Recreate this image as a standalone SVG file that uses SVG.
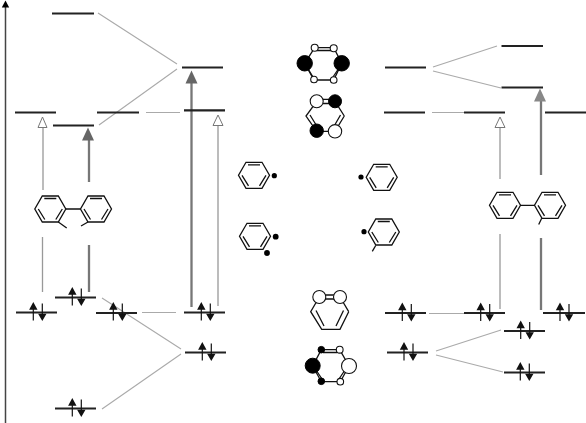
<svg xmlns="http://www.w3.org/2000/svg" xmlns:xlink="http://www.w3.org/1999/xlink" width="586" height="423" viewBox="0 0 586 423">
<style>
.lv{stroke:#222;stroke-width:2.2;fill:none}
.cn{stroke:#aaa;stroke-width:1.1;fill:none}
.thin{stroke:#999;stroke-width:1.3;fill:none}
.mid{stroke:#777;stroke-width:2.3;fill:none}
.oh{fill:#fff;stroke:#777;stroke-width:1}
.fh{fill:#666;stroke:none}
.ln{stroke:#111;stroke-width:1.3;fill:none}
.w{fill:#fff;stroke:#111;stroke-width:1.1}
.b{fill:#000;stroke:#000;stroke-width:1}
</style>
<defs>
<g id="spin">
<path d="M0,8.5V-6M9,-8.5V6" stroke="#111" stroke-width="1.2" fill="none"/>
<path d="M0,-10L-4.2,-2.3H4.2ZM9,9L4.8,1.8H13.2Z" fill="#111"/>
</g>
<g id="hex">
<path class="ln" d="M-8,-13H8L15.5,0L8,13H-8L-15.5,0Z"/>
<path class="ln" d="M-6,-10.5H6M-12,0L-5.5,10.5M12,0L5.5,10.5"/>
</g>
</defs>
<rect width="586" height="423" fill="#fff"/>

<g id="axis">
<path d="M5.5,423V6" stroke="#444" stroke-width="1.5" fill="none"/>
<path d="M5.5,0.5L1.8,7.5H9.2Z" fill="#000"/>
</g>

<g id="connectors">
<path class="cn" d="M98,13L177,64M99,125L177,69M146,112.5H180M102,298L181,349M102,409L181,354M142,312.5H176"/>
<path class="cn" d="M433,67L497,46M433,71L501,88M432,112.5H465M436,351L501,330M436,355L503,372M429,313.5H465"/>
<path class="thin" d="M43,190V127M42.5,237V292M218,306V125M500,179V127M500,234V309"/>
<path class="mid" d="M89,182V140M89,245V292M191.5,307V82M541,175V101M541,238V310"/>
<polygon class="oh" points="42.5,117 38,127.5 47,127.5"/>
<polygon class="fh" points="88,127.5 82,140.5 94,140.5"/>
<polygon class="fh" points="191.5,70.5 185.5,83.5 197.5,83.5"/>
<polygon class="oh" points="218,115 213,125.5 223,125.5"/>
<polygon class="oh" points="500,117 495,127.5 505,127.5"/>
<polygon class="fh" points="540,88.5 534,101.5 546,101.5" style="fill:#888"/>
</g>

<g id="levels-left">
<path class="lv" d="M52,13.5H94M15,112.5H56M53,125.5H94M97,112.5H139M182,67.5H223M184,110.3H225"/>
<path class="lv" d="M16,312.5H57M55,297.5H96M96,313H137M184,312.5H225M185,352.5H226M55,408.5H96"/>
<use href="#spin" x="33.3" y="312"/>
<use href="#spin" x="72.3" y="297"/>
<use href="#spin" x="113.3" y="312"/>
<use href="#spin" x="201.3" y="312"/>
<use href="#spin" x="202.3" y="352"/>
<use href="#spin" x="72.3" y="408"/>
</g>

<g id="levels-right">
<path class="lv" d="M385,67.5H426M384,112.5H425M464,112.5H505M501.5,46H543M501.5,87.5H543M545,112.5H586"/>
<path class="lv" d="M385,313H426M387,352.5H428M464,313H505M504,331H545M504,372.5H545M543,313H585"/>
<use href="#spin" x="402.3" y="312.5"/>
<use href="#spin" x="404" y="352"/>
<use href="#spin" x="480.7" y="312.5"/>
<use href="#spin" x="520.7" y="330.5"/>
<use href="#spin" x="520.3" y="372"/>
<use href="#spin" x="560" y="312.5"/>
</g>

<g id="biphenyl-dimethyl">
<use href="#hex" x="50.3" y="209"/>
<use href="#hex" x="96" y="209"/>
<path class="ln" d="M65.8,209H80.5M58.3,222L66.7,228M88,222L81,226"/>
</g>

<g id="biphenyl-methyl">
<use href="#hex" x="505" y="205.3"/>
<use href="#hex" x="550" y="205.3"/>
<path class="ln" d="M520.5,205.3H534.5M541.7,218.3L538.7,224.5"/>
</g>

<g id="radical-1">
<use href="#hex" x="254" y="175.3"/>
<circle cx="274.3" cy="175.7" r="2.6" fill="#000"/>
</g>
<g id="radical-2">
<use href="#hex" x="381.7" y="177.3"/>
<circle cx="361" cy="177" r="2.6" fill="#000"/>
</g>
<g id="radical-3">
<use href="#hex" x="255" y="236.3"/>
<circle cx="275.7" cy="236.7" r="2.9" fill="#000"/>
<circle cx="267" cy="253" r="2.9" fill="#000"/>
</g>
<g id="radical-4">
<use href="#hex" x="383.8" y="232"/>
<circle cx="364" cy="231.7" r="2.6" fill="#000"/>
<path class="ln" d="M375.7,245.5L372.3,251.3"/>
</g>

<g id="orbital-1">
<path class="ln" d="M314.7,47.7H333.7L341.7,63.3L333.7,80H314L304.7,63.3Z"/>
<path class="ln" d="M317,50.5H331M307.5,68L313,77"/>
<path class="ln" d="M339,68L333,77"/>
<circle class="b" cx="304.7" cy="63.3" r="7.7"/>
<circle class="b" cx="341.7" cy="63.3" r="7.7"/>
<circle class="w" cx="314.7" cy="47.7" r="3.5"/>
<circle class="w" cx="333.7" cy="48.3" r="3.5"/>
<circle class="w" cx="314" cy="79.5" r="3.3"/>
<circle class="w" cx="333.7" cy="80" r="3.3"/>
</g>

<g id="orbital-2">
<path class="ln" d="M316.7,99.3H335M344.3,116L335,131.3H316.7L306,116L316.7,101.3M335,101.3L344.3,116"/>
<path class="ln" d="M323,103.5H329M310,115L318,128M340.5,115L333,128"/>
<circle class="w" cx="316.7" cy="101.3" r="6.5"/>
<circle class="b" cx="335" cy="101.3" r="6.5"/>
<circle class="b" cx="316.7" cy="130.7" r="6.7"/>
<circle class="w" cx="335" cy="131.3" r="6.7"/>
</g>

<g id="orbital-3">
<path class="ln" d="M319.3,295H340M348.7,311.7L340,329.3H321.7L310.7,311.7L319.3,297M340,297L348.7,311.7"/>
<path class="ln" d="M325,299H335M316,310.5L324,326M343.5,310.5L336,326"/>
<circle class="w" cx="319.3" cy="297" r="6.5"/>
<circle class="w" cx="340" cy="297" r="6.5"/>
</g>

<g id="orbital-4">
<path class="ln" d="M321.3,349.7H339.7L349,366L340.3,381.7H321.3L312.7,366Z"/>
<path class="ln" d="M323,352.5H337M316,370L322,379M345,370L339,379"/>
<circle class="b" cx="312.7" cy="365.7" r="7.5"/>
<circle class="w" cx="349" cy="366" r="7.5"/>
<circle class="b" cx="321.3" cy="349.7" r="3.3"/>
<circle class="w" cx="339.7" cy="349.7" r="3.4"/>
<circle class="b" cx="321.3" cy="381.3" r="3.3"/>
<circle class="w" cx="340.3" cy="381.7" r="3.3"/>
</g>
</svg>
